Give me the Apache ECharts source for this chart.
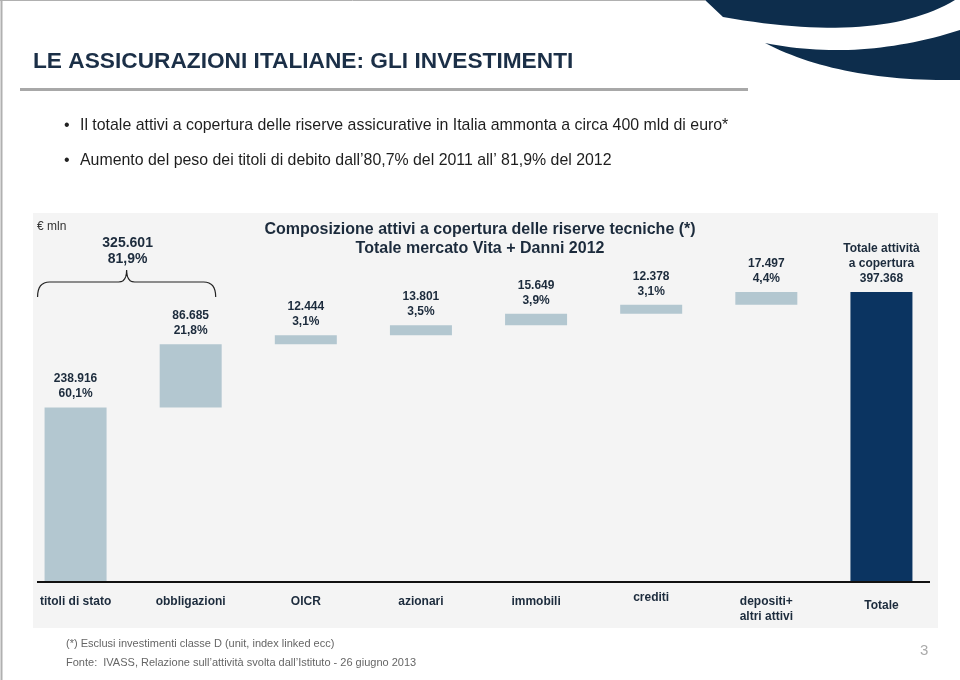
<!DOCTYPE html>
<html>
<head>
<meta charset="utf-8">
<script src="https://cdn.jsdelivr.net/npm/echarts@6/dist/echarts.min.js"></script>
<style>
html,body{margin:0;padding:0;background:#fff;}
#c{width:960px;height:680px;}
</style>
</head>
<body>
<div id="c"></div>
<script>
// ---- data ----
var categories = ['titoli di stato', 'obbligazioni', 'OICR', 'azionari', 'immobili', 'crediti', 'depositi+\naltri attivi', 'Totale'];
var values = [238916, 86685, 12444, 13801, 15649, 12378, 17497, 397368];
var shares = ['60,1%', '21,8%', '3,1%', '3,5%', '3,9%', '3,1%', '4,4%', ''];
var debtTotal = 325601;
var debtShare = '81,9%';
var totalLabel = ['Totale attività', 'a copertura'];

function fmt(n) {
  return String(n).replace(/\B(?=(\d{3})+(?!\d))/g, '.');
}

// waterfall helper: invisible base under each step
var bases = [];
var run = 0;
for (var i = 0; i < values.length; i++) {
  if (i === values.length - 1) { bases.push(0); }
  else { bases.push(run); run += values[i]; }
}

var LIGHT = '#b3c7d0';
var NAVY = '#0b3461';
var TXT = '#1c2b3c';
var FF = '"Liberation Sans", Arial, sans-serif';

// sample a quadratic bezier (decoration geometry only)
function quad(a, c, b, n) {
  var pts = [];
  for (var k = 0; k <= n; k++) {
    var t = k / n, u = 1 - t;
    pts.push([u * u * a[0] + 2 * u * t * c[0] + t * t * b[0], u * u * a[1] + 2 * u * t * c[1] + t * t * b[1]]);
  }
  return pts;
}

var chart = echarts.init(document.getElementById('c'), null, {renderer: 'canvas'});

var barData = values.map(function (v, i) {
  return {
    value: v,
    itemStyle: {color: i === values.length - 1 ? NAVY : LIGHT}
  };
});

var option = {
  backgroundColor: '#ffffff',
  animation: false,
  grid: {left: 18, right: 21, top: 290, bottom: 98, containLabel: false},
  xAxis: {
    type: 'category',
    data: categories,
    axisLine: {show: false},
    axisTick: {show: false},
    axisLabel: {
      interval: 0,
      margin: 12,
      color: TXT,
      fontSize: 12,
      fontWeight: 'bold',
      fontFamily: FF,
      lineHeight: 15,
      formatter: function (v) {
        if (v === 'crediti') return '{up|' + v + '}';
        if (v === 'Totale') return '{down|' + v + '}';
        return v;
      },
      rich: {
        up: {fontSize: 12, color: TXT, fontWeight: 'bold', padding: [0, 0, 8, 0], fontFamily: FF},
        down: {fontSize: 12, color: TXT, fontWeight: 'bold', padding: [8, 0, 0, 0], fontFamily: FF}
      }
    }
  },
  yAxis: {
    type: 'value',
    min: 0,
    max: 400000,
    show: false,
    splitLine: {show: false}
  },
  series: [
    {
      type: 'bar',
      stack: 'w',
      data: bases,
      barWidth: 62,
      itemStyle: {color: 'transparent'},
      silent: true
    },
    {
      type: 'bar',
      stack: 'w',
      data: barData,
      barWidth: 62,
      label: {
        show: true,
        position: 'top',
        distance: 6,
        color: TXT,
        fontWeight: 'bold',
        fontSize: 12,
        lineHeight: 15,
        fontFamily: FF,
        formatter: function (p) {
          if (p.dataIndex === values.length - 1) {
            return totalLabel.join('\n') + '\n' + fmt(p.value);
          }
          return fmt(p.value) + '\n' + shares[p.dataIndex];
        }
      }
    }
  ]
};

chart.setOption(option);

// brace over the debt securities (titoli di stato + obbligazioni)
var p0 = chart.convertToPixel({gridIndex: 0}, [0, 0]);
var p1 = chart.convertToPixel({gridIndex: 0}, [1, 0]);
var bl = p0[0] - 38, br = p1[0] + 25, bc = (bl + br) / 2;
var by = 282;
var brace = [].concat(
  quad([bl, 297], [bl, by], [bl + 12, by], 8),
  quad([bc - 8, by], [bc, by], [bc, by - 12], 6),
  quad([bc, by - 12], [bc, by], [bc + 8, by], 6),
  quad([br - 12, by], [br, by], [br, 297], 8)
);

var crescent1 = [[705, 0], [960, 0]].concat(quad([955, 0], [880, 45], [723, 17], 30));
var crescent2 = quad([765, 43], [860, 62], [960, 30], 30).concat([[960, 80]]).concat(quad([960, 80], [840, 82], [765, 43], 30));

var g = [
  // slide border
  {type: 'line', shape: {x1: 1.5, y1: 0, x2: 1.5, y2: 680}, style: {stroke: '#b0b0b0', lineWidth: 2}},
  {type: 'line', shape: {x1: 0, y1: 0.5, x2: 705, y2: 0.5}, style: {stroke: '#b0b0b0', lineWidth: 1}},
  // decorations top right
  {type: 'polygon', shape: {points: crescent1}, style: {fill: '#0d2d4c'}},
  {type: 'polygon', shape: {points: crescent2}, style: {fill: '#0d2d4c'}},
  // title
  {type: 'text', left: 33, top: 50, style: {text: 'LE ASSICURAZIONI ITALIANE: GLI INVESTIMENTI', fill: '#1b2f47', font: 'bold 22.7px ' + FF}},
  {type: 'rect', shape: {x: 20, y: 88, width: 728, height: 3}, style: {fill: '#a8a8a8'}},
  // bullets
  {type: 'text', left: 64, top: 118, style: {text: '•', fill: '#222', font: '16px ' + FF}},
  {type: 'text', left: 80, top: 118, style: {text: 'Il totale attivi a copertura delle riserve assicurative in Italia ammonta a circa 400 mld di euro*', fill: '#1e1e1e', font: '15.9px ' + FF}},
  {type: 'text', left: 64, top: 153, style: {text: '•', fill: '#222', font: '16px ' + FF}},
  {type: 'text', left: 80, top: 153, style: {text: 'Aumento del peso dei titoli di debito dall’80,7% del 2011 all’ 81,9% del 2012', fill: '#1e1e1e', font: '15.9px ' + FF}},
  // panel background
  {type: 'rect', z: -10, shape: {x: 33, y: 213, width: 905, height: 415}, style: {fill: '#f4f4f4'}},
  // unit
  {type: 'text', left: 37, top: 221, style: {text: '€ mln', fill: '#333', font: '12px ' + FF}},
  // chart title
  {type: 'text', x: 480, y: 220, style: {text: 'Composizione attivi a copertura delle riserve tecniche (*)\nTotale mercato Vita + Danni 2012', fill: '#1c2b3c', textAlign: 'center', lineHeight: 19, font: 'bold 16px ' + FF}},
  // brace
  {type: 'polyline', shape: {points: brace}, style: {fill: null, stroke: '#222', lineWidth: 1.2}},
  {type: 'text', x: bc + 1, y: 235, style: {text: fmt(debtTotal) + '\n' + debtShare, fill: TXT, textAlign: 'center', lineHeight: 16, font: 'bold 14px ' + FF}},
  // axis baseline
  {type: 'line', z: 10, shape: {x1: 37, y1: 582, x2: 930, y2: 582}, style: {stroke: '#111', lineWidth: 2}},
  // footer
  {type: 'text', left: 66, top: 638, style: {text: '(*) Esclusi investimenti classe D (unit, index linked ecc)', fill: '#666', font: '11px ' + FF}},
  {type: 'text', left: 66, top: 657, style: {text: 'Fonte:  IVASS, Relazione sull’attività svolta dall’Istituto - 26 giugno 2013', fill: '#666', font: '11px ' + FF}},
  {type: 'text', left: 920, top: 643, style: {text: '3', fill: '#aaa', font: '15px ' + FF}}
];
chart.setOption({graphic: g});
</script>
</body>
</html>
